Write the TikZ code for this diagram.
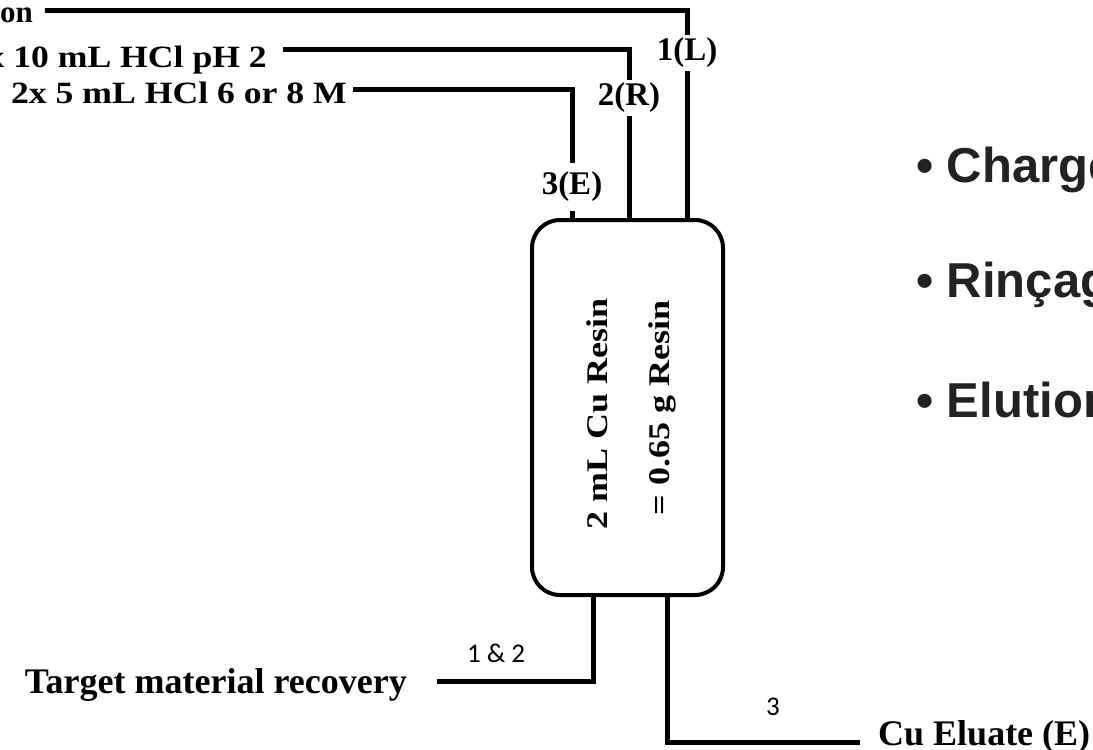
\documentclass[tikz,border=0pt]{standalone}
\usepackage{fontspec}
\setmainfont{Liberation Serif}
\newfontfamily\calfont{Carlito}
\newfontfamily\arialfont{Liberation Sans}
\usetikzlibrary{positioning}
\definecolor{bulgray}{RGB}{34,34,34}

\begin{document}
\begin{tikzpicture}[x=1pt,y=-1pt,
pipe/.style={line width=5pt,draw=black},
src/.style={font=\fontsize{31}{31}\selectfont\bfseries,inner sep=0pt,anchor=base east},
tag/.style={font=\fontsize{33}{33}\selectfont\bfseries,inner sep=3pt},
outlab/.style={font=\fontsize{36}{36}\selectfont\bfseries,inner sep=0pt},
small/.style={font=\fontsize{27}{27}\selectfont\calfont,inner sep=0pt},
col/.style={draw,line width=4pt,rounded corners=28pt,minimum width=191pt,minimum height=375pt},
resin/.style={font=\fontsize{30}{30}\selectfont\bfseries,rotate=90,inner sep=0pt},
bul/.style={font=\fontsize{49}{49}\selectfont\arialfont\bfseries,text=bulgray,anchor=west,inner sep=0pt}]

\useasboundingbox (0,0) rectangle (1093,750);
\clip (0,0) rectangle (1093,750);

% feed lines
\node[src] (feed1) at (33,22) {on};
\node[src] (feed2) at (267,67) {\scalebox{1.15}[1]{x 10 mL HCl pH 2}};
\node[src] (feed3) at (347,103) {\scalebox{1.15}[1]{2x 5 mL HCl 6 or 8 M}};
\coordinate (s1) at (45,10);
\coordinate (s2) at (283,49);
\coordinate (s3) at (353,89);

% column
\node[col] (col) at (627.5,407.5) {};
\node[resin] (r1) at (597,414) {\scalebox{1.2}[1]{2 mL Cu Resin}};
\node[resin] (r2) at (662,408) {\scalebox{1.2}[1]{= 0.65 g Resin}};

\node[tag] (l1) at (687,53) {1(L)};
\node[tag] (l2) at (629,98) {2(R)};
\node[tag,inner ysep=9pt] (l3) at (572,187) {3(E)};

\draw[pipe] (s1) -| (l1.north);
\draw[pipe] (l1.south) -- (l1.south |- col.north);
\draw[pipe] (s2) -| (l2.north);
\draw[pipe] (l2.south) -- (l2.south |- col.north);
\draw[pipe] (s3) -| (l3.north);
\draw[pipe] (l3.south) -- (l3.south |- col.north);

% outlets
\coordinate (o1) at (593,681);
\coordinate (t1) at (437,681);
\coordinate (o3) at (667,742);
\coordinate (t3) at (860,742);
\node[outlab,anchor=base east] (tgt) at (407,693) {Target material recovery};
\node[outlab,anchor=base west] (elu) at (878,745) {Cu Eluate (E)};
\node[small] (n12) at (496,653) {1 \& 2};
\node[small] (n3) at (773,707) {3};
\draw[pipe] (col.south -| o1) -- (o1) -- (t1);
\draw[pipe] (col.south -| o3) -- (o3) -- (t3);

% steps
\node[bul] (b1) at (916,170) {• Charge};
\node[bul] (b2) at (916,285) {• Rinçage};
\node[bul] (b3) at (916,400) {• Elution};
\end{tikzpicture}
\end{document}
